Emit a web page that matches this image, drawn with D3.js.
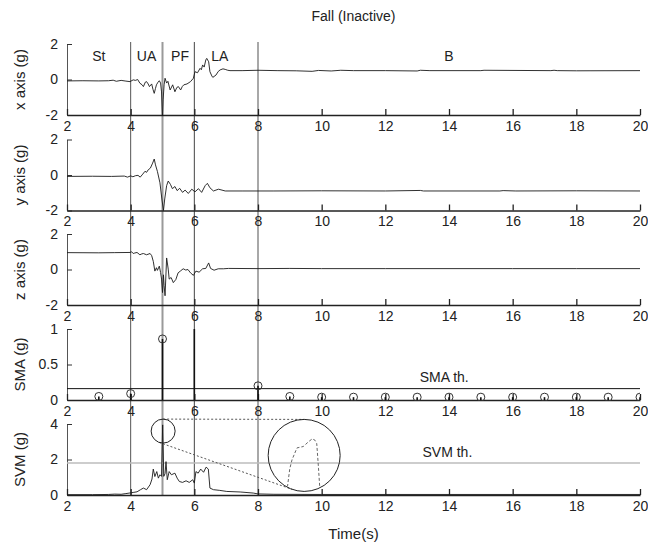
<!DOCTYPE html>
<html>
<head>
<meta charset="utf-8">
<script src="https://cdn.jsdelivr.net/npm/d3@7"></script>
<style>
  body { margin: 0; background: #fff; }
  svg { display: block; font-family: "Liberation Sans", Arial, sans-serif; }
</style>
</head>
<body>
<svg id="chart" width="648" height="543"></svg>
<script>
// valeurs : [temps (s), valeur]
const accX = [[2.0,-0.08],[2.5,-0.07],[3.0,-0.08],[3.3,-0.07],[3.45,-0.04],[3.55,-0.1],[3.7,-0.05],[3.85,-0.09],[3.98,-0.12],
  [4.08,-0.02],[4.15,-0.05],[4.22,0.0],[4.29,-0.21],[4.36,-0.3],[4.40,-0.4],[4.46,-0.15],[4.50,-0.12],[4.55,-0.25],[4.59,-0.4],
  [4.66,-0.25],[4.70,-0.55],[4.74,-0.78],[4.78,-0.5],[4.81,-0.3],[4.86,-0.15],[4.90,-0.07],[4.94,-0.2],[4.97,-0.7],[5.0,-2.3],
  [5.02,-1.15],[5.05,-0.3],[5.08,0.07],[5.13,-0.2],[5.17,-0.1],[5.24,-0.59],[5.32,-0.3],[5.39,-0.69],[5.45,-0.45],[5.5,-0.4],
  [5.57,-0.59],[5.62,-0.4],[5.67,-0.3],[5.77,-0.25],[5.88,-0.12],[5.97,0.07],[6.02,0.44],[6.1,0.38],[6.18,0.63],[6.22,0.55],
  [6.26,0.82],[6.31,0.7],[6.36,1.1],[6.39,1.19],[6.45,1.0],[6.49,0.44],[6.55,0.2],[6.58,0.12],[6.68,0.25],[6.75,0.45],[6.81,0.54],
  [6.9,0.6],[6.97,0.57],[7.05,0.52],[7.12,0.5],[7.5,0.5],[8.0,0.52],[8.6,0.5],[9.2,0.49],[9.7,0.46],[9.9,0.51],[10.3,0.48],
  [10.6,0.52],[11.0,0.5],[12.0,0.5],[13.0,0.48],[13.1,0.52],[13.4,0.5],[15.0,0.5],[15.1,0.52],[17.2,0.5],[17.3,0.52],[17.4,0.5],
  [18.0,0.49],[20,0.5]];

const accY = [[2.0,-0.08],[2.8,-0.07],[3.4,-0.08],[3.8,-0.06],[3.9,-0.12],[4.0,-0.05],[4.07,-0.1],[4.15,-0.04],[4.23,-0.02],
  [4.3,-0.12],[4.38,0.05],[4.45,0.21],[4.5,0.15],[4.55,0.29],[4.62,0.39],[4.69,0.67],[4.74,0.9],[4.78,0.57],[4.84,0.2],[4.92,-0.44],
  [4.98,-1.35],[5.03,-2.0],[5.07,-1.35],[5.13,-0.6],[5.18,-0.34],[5.25,-0.53],[5.31,-0.77],[5.39,-0.65],[5.46,-0.88],[5.54,-0.75],
  [5.63,-0.98],[5.71,-0.85],[5.81,-1.04],[5.92,-0.8],[6.02,-0.95],[6.13,-0.77],[6.23,-0.98],[6.34,-0.6],[6.41,-0.47],[6.49,-0.72],
  [6.6,-0.9],[6.76,-0.8],[6.97,-0.9],[7.5,-0.9],[8.5,-0.9],[10,-0.89],[12,-0.9],[13.1,-0.87],[13.2,-0.9],[15.6,-0.9],[15.7,-0.88],
  [16.1,-0.9],[18.0,-0.89],[20,-0.9]];

const accZ = [[2.0,0.95],[3.0,0.94],[3.5,0.95],[3.98,0.96],[4.03,1.0],[4.08,0.9],[4.13,0.93],[4.2,0.96],[4.29,0.83],[4.35,0.88],
  [4.4,0.9],[4.5,0.83],[4.61,0.9],[4.66,0.78],[4.71,0.46],[4.76,-0.09],[4.81,0.1],[4.84,-0.05],[4.9,0.19],[4.94,-0.17],[4.97,-0.54],
  [5.0,-1.3],[5.03,-0.3],[5.05,-0.9],[5.08,-1.48],[5.13,0.65],[5.18,0.02],[5.21,-0.54],[5.27,-0.45],[5.34,-0.74],[5.42,-0.56],
  [5.49,-0.19],[5.56,-0.09],[5.65,0.04],[5.73,-0.03],[5.8,0.0],[5.88,-0.19],[5.97,-0.33],[6.05,-0.09],[6.15,-0.15],[6.26,0.04],
  [6.36,0.06],[6.45,0.37],[6.51,0.06],[6.62,-0.04],[6.75,0.04],[6.91,0.04],[7.07,0.06],[8.0,0.05],[9.0,0.06],[10.0,0.05],
  [12,0.05],[14,0.05],[16,0.05],[18,0.05],[20,0.05]];

const svmData = [[2.0,0.02],[2.8,0.02],[3.3,0.03],[3.5,0.05],[3.7,0.04],[3.85,0.08],[4.0,0.12],[4.1,0.15],[4.2,0.18],[4.31,0.3],
  [4.4,0.39],[4.5,0.3],[4.61,0.58],[4.67,0.9],[4.71,1.46],[4.76,1.04],[4.82,1.32],[4.87,0.95],[4.92,1.14],[4.97,1.05],[5.005,3.95],
  [5.04,1.05],[5.08,1.2],[5.11,1.88],[5.15,0.86],[5.21,1.32],[5.28,1.14],[5.39,1.23],[5.46,0.95],[5.53,0.76],[5.63,0.71],[5.74,0.8],
  [5.84,0.71],[5.95,0.86],[6.0,0.67],[6.05,1.32],[6.12,1.23],[6.2,1.46],[6.29,1.28],[6.37,1.57],[6.44,1.46],[6.49,0.39],[6.6,0.3],
  [6.8,0.26],[7.02,0.2],[7.44,0.17],[7.85,0.11],[8.0,0.06],[8.5,0.04],[10,0.03],[12,0.03],[14,0.03],[16,0.03],[18,0.03],[20,0.03]];

// SMA par seconde (la valeur à 6 s dépasse le cadre)
const smaT = [3,4,5,6,8,9,10,11,12,13,14,15,16,17,18,19,20];
const smaV = [0.05,0.09,0.86,1.2,0.2,0.05,0.04,0.04,0.04,0.04,0.04,0.04,0.04,0.04,0.04,0.04,0.04];

// zoom sur le pic du SVM
const peakZoom = [[5.010,2.9],[5.014,3.3],[5.0165,3.43],[5.022,3.6],[5.029,3.62],[5.035,3.69],[5.039,3.73],[5.042,3.71],
  [5.044,3.66],[5.046,3.3],[5.048,2.9]];

const smaThreshold = 0.16;
const svmThreshold = 1.8;

const phaseBounds = [4, 5, 6, 8];
const phaseNames = ['St', 'UA', 'PF', 'LA', 'B'];
const phaseLabelT = [3, 4.5, 5.55, 6.8, 14];
const timeTicks = [2, 4, 6, 8, 10, 12, 14, 16, 18, 20];

// Code principal
const svg = d3.select('#chart');
const x = d3.scaleLinear().domain([2, 20]).range([67, 640]);
const panelTop = [44, 139.5, 234, 329, 424];
const panelH = 71;

const panels = [
  {label: 'x axis (g)', data: accX, domain: [-2, 2], ticks: [-2, 0, 2]},
  {label: 'y axis (g)', data: accY, domain: [-2, 2], ticks: [-2, 0, 2]},
  {label: 'z axis (g)', data: accZ, domain: [-2, 2], ticks: [-2, 0, 2]},
  {label: 'SMA (g)', data: null, domain: [0, 1], ticks: [0, 0.5, 1]},
  {label: 'SVM (g)', data: svmData, domain: [0, 4], ticks: [0, 2, 4]}
];

const defs = svg.append('defs');

// lignes de phase (derrière le reste)
const phaseStyle = [
  {stroke: '#555', w: 1},
  {stroke: '#9a9a9a', w: 2},
  {stroke: '#444', w: 1},
  {stroke: '#a8a8a8', w: 2}
];
svg.append('g').selectAll('line').data(phaseBounds).join('line')
  .attr('x1', d => x(d)).attr('x2', d => x(d))
  .attr('y1', 42).attr('y2', panelTop[4] + panelH)
  .attr('stroke', (d, i) => phaseStyle[i].stroke)
  .attr('stroke-width', (d, i) => phaseStyle[i].w);

panels.forEach((p, i) => {
  const top = panelTop[i], bottom = top + panelH;
  p.y = d3.scaleLinear().domain(p.domain).range([bottom, top]);
  p.g = svg.append('g');

  defs.append('clipPath').attr('id', 'clip' + i)
    .append('rect').attr('x', x(2)).attr('y', top).attr('width', x(20) - x(2)).attr('height', panelH + 1);

  // axe gauche (tirets simples comme sur l'original)
  const ax = p.g.append('g').attr('transform', `translate(${x(2)},0)`)
    .call(d3.axisLeft(p.y).tickValues(p.ticks).tickSize(-5).tickSizeOuter(0).tickPadding(9)
      .tickFormat(d => String(d)));
  ax.select('.domain').attr('stroke', '#555');
  ax.selectAll('.tick line').attr('stroke', '#333');

  // axe du bas
  const bx = p.g.append('g').attr('transform', `translate(0,${bottom})`)
    .call(d3.axisBottom(x).tickValues(timeTicks).tickSize(-6).tickSizeOuter(0).tickPadding(6));
  bx.select('.domain').attr('stroke', '#222').attr('stroke-width', 1.6);
  bx.selectAll('.tick line').attr('stroke', '#222').attr('stroke-width', 1.3);

  svg.selectAll('.tick text').attr('font-size', 14).attr('fill', '#222')
    .attr('font-family', '"Liberation Sans", Arial, sans-serif');

  p.g.append('text')
    .attr('transform', `translate(19,${(top + bottom) / 2}) rotate(-90)`)
    .attr('text-anchor', 'middle').attr('dominant-baseline', 'central')
    .attr('font-size', 15).attr('fill', '#222')
    .text(p.label);
});

svg.append('g').selectAll('text').data(phaseNames).join('text')
  .attr('x', (d, i) => x(phaseLabelT[i])).attr('y', 56)
  .attr('text-anchor', 'middle').attr('dominant-baseline', 'central')
  .attr('font-size', 14).attr('fill', '#222')
  .text(d => d);

// SVM : seuil (sous la trace)
const svm = panels[4];
svm.g.append('line')
  .attr('x1', x(2)).attr('x2', x(20))
  .attr('y1', svm.y(svmThreshold)).attr('y2', svm.y(svmThreshold))
  .attr('stroke', '#bdbdbd').attr('stroke-width', 1.5);
svm.g.append('text')
  .attr('x', x(13.95)).attr('y', svm.y(svmThreshold) - 11)
  .attr('text-anchor', 'middle').attr('dominant-baseline', 'central')
  .attr('font-size', 14).attr('fill', '#222').text('SVM th.');

// traces
panels.forEach((p, i) => {
  if (!p.data) return;
  const line = d3.line().x(d => x(d[0])).y(d => p.y(d[1]));
  p.g.append('path').datum(p.data)
    .attr('clip-path', `url(#clip${i})`)
    .attr('fill', 'none').attr('stroke', '#1a1a1a').attr('stroke-width', 0.9)
    .attr('stroke-linejoin', 'round')
    .attr('d', line);
});

// SMA : tiges, cercles et seuil
const sma = panels[3];
const smaG = sma.g.append('g').attr('clip-path', 'url(#clip3)');
smaG.append('line')
  .attr('x1', x(2)).attr('x2', x(20))
  .attr('y1', sma.y(smaThreshold)).attr('y2', sma.y(smaThreshold))
  .attr('stroke', '#111').attr('stroke-width', 1);
smaG.selectAll('.stem').data(smaT).join('line').attr('class', 'stem')
  .attr('x1', d => x(d)).attr('x2', d => x(d))
  .attr('y1', sma.y(0)).attr('y2', (d, i) => sma.y(smaV[i]))
  .attr('stroke', '#111').attr('stroke-width', 1.6);
smaG.selectAll('circle').data(smaT).join('circle')
  .attr('cx', d => x(d)).attr('cy', (d, i) => sma.y(smaV[i])).attr('r', 4)
  .attr('fill', 'none').attr('stroke', '#333').attr('stroke-width', 1);
sma.g.append('text')
  .attr('x', x(13.85)).attr('y', sma.y(smaThreshold) - 12)
  .attr('text-anchor', 'middle').attr('dominant-baseline', 'central')
  .attr('font-size', 14).attr('fill', '#222').text('SMA th.');

// loupe
const small = {cx: x(5.02), cy: svm.y(3.6), r: 12};
const big = {cx: x(9.45), cy: svm.y(2.23), r: 36};

function tangents(a, b) {
  const dx = b.cx - a.cx, dy = b.cy - a.cy;
  const d = Math.hypot(dx, dy);
  const base = Math.atan2(dy, dx);
  const alpha = Math.asin((b.r - a.r) / d);
  return [-1, 1].map(s => {
    const phi = base + s * (Math.PI / 2 + alpha);
    return [a.cx + a.r * Math.cos(phi), a.cy + a.r * Math.sin(phi),
            b.cx + b.r * Math.cos(phi), b.cy + b.r * Math.sin(phi)];
  });
}

const lens = svm.g.append('g');
lens.selectAll('.tan').data(tangents(small, big)).join('line').attr('class', 'tan')
  .attr('x1', d => d[0]).attr('y1', d => d[1]).attr('x2', d => d[2]).attr('y2', d => d[3])
  .attr('stroke', '#555').attr('stroke-width', 1).attr('stroke-dasharray', '2,2');
lens.selectAll('.ring').data([small, big]).join('circle').attr('class', 'ring')
  .attr('cx', d => d.cx).attr('cy', d => d.cy).attr('r', d => d.r)
  .attr('fill', 'none').attr('stroke', '#222').attr('stroke-width', 1);

defs.append('clipPath').attr('id', 'lensClip')
  .append('circle').attr('cx', big.cx).attr('cy', big.cy).attr('r', big.r - 1);
const zx = d3.scaleLinear().domain([4.99, 5.07]).range([big.cx - big.r, big.cx + big.r]);
const zy = d3.scaleLinear().domain([3.0, 4.0]).range([big.cy + 34.5, big.cy + 34.5 - 70]);
lens.append('path').datum(peakZoom)
  .attr('clip-path', 'url(#lensClip)')
  .attr('fill', 'none').attr('stroke', '#666').attr('stroke-width', 1)
  .attr('stroke-dasharray', '3,2')
  .attr('d', d3.line().x(d => zx(d[0])).y(d => zy(d[1])));

// titres
svg.append('text').attr('x', (x(2) + x(20)) / 2).attr('y', 16)
  .attr('text-anchor', 'middle').attr('dominant-baseline', 'central')
  .attr('font-size', 14).attr('fill', '#222').text('Fall (Inactive)');
svg.append('text').attr('x', (x(2) + x(20)) / 2).attr('y', 533)
  .attr('text-anchor', 'middle').attr('dominant-baseline', 'central')
  .attr('font-size', 15).attr('fill', '#222').text('Time(s)');
</script>
</body>
</html>
